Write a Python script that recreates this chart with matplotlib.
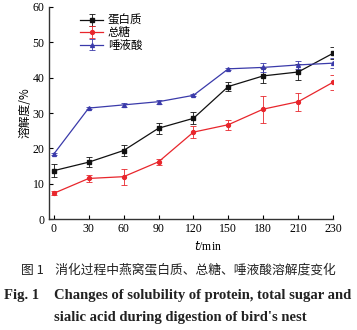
import matplotlib
matplotlib.use("Agg")
import matplotlib.pyplot as plt
import numpy as np

times = ["0", "30", "60", "90", "120", "150", "180", "210", "230"]
protein = [13.7, 16.1, 19.4, 25.7, 28.5, 37.5, 40.5, 41.6, 46.9]
protein_err = [1.8, 1.5, 1.6, 1.5, 1.7, 1.3, 2.1, 2.4, 1.7]
sugar = [7.3, 11.5, 12.0, 16.2, 24.6, 26.7, 31.1, 33.2, 38.7]
sugar_err = [0.6, 1.0, 2.3, 0.9, 1.7, 1.4, 3.8, 2.6, 2.1]
sialic = [18.4, 31.4, 32.3, 33.2, 35.0, 42.5, 42.9, 43.6, 44.1]
sialic_err = [0.3, 0.3, 0.6, 0.6, 0.3, 0.3, 1.3, 1.2, 1.5]
series_names = ["蛋白质", "总糖", "唾液酸"]

serif = ["Liberation Serif", "Noto Sans CJK SC"]
cjk = ["Noto Sans CJK SC", "DejaVu Sans"]

fig = plt.figure(figsize=(3.57, 3.30), dpi=100)
ax = fig.add_axes([0.137, 0.336, 0.796, 0.643])

x = np.arange(len(times))
styles = [
    (protein, protein_err, "#111111", "s"),
    (sugar, sugar_err, "#e8262c", "o"),
    (sialic, sialic_err, "#3a3aaa", "^"),
]
for (vals, err, col, mk), name in zip(styles, series_names):
    ax.errorbar(x, vals, yerr=err, color=col, marker=mk, markersize=2.8,
                linewidth=0.9, elinewidth=0.6, capsize=2, capthick=0.6,
                label=name)

ax.set_xlim(-0.14, 8.0)
ax.set_ylim(0, 60)
ax.set_xticks(x)
ax.set_xticklabels(times)
ax.set_yticks(np.arange(0, 61, 10))
for side in ("top", "right"):
    ax.spines[side].set_visible(False)
for side in ("left", "bottom"):
    ax.spines[side].set_linewidth(1.0)
    ax.spines[side].set_color("#333333")
ax.tick_params(direction="in", length=3, width=0.8, labelsize=8.5, pad=3)
for lab in ax.get_xticklabels() + ax.get_yticklabels():
    lab.set_family(serif)

ax.set_xlabel("$t$/min", fontsize=8.5, family=serif, labelpad=1)
ax.xaxis.set_label_coords(0.56, -0.1)
ax.set_ylabel("溶解度/%", fontsize=8.5, family=cjk, labelpad=1)

leg = ax.legend(loc="upper left", bbox_to_anchor=(0.085, 1.0), frameon=False,
                prop={"family": cjk, "size": 8.3}, handlelength=2.0,
                handletextpad=0.4, labelspacing=-0.05, borderaxespad=0.2)

fig.text(0.5, 0.182, "图 1    消化过程中燕窝蛋白质、总糖、唾液酸溶解度变化",
         ha="center", va="center", fontsize=9.2, family=cjk, color="#222222")
fig.text(0.01, 0.106, "Fig. 1", ha="left", va="center", fontsize=10.5,
         family=serif, weight="bold", color="#222222")
fig.text(0.152, 0.106, "Changes of solubility of protein, total sugar and",
         ha="left", va="center", fontsize=10.5, family=serif, weight="bold",
         color="#222222")
fig.text(0.152, 0.039, "sialic acid during digestion of bird's nest",
         ha="left", va="center", fontsize=10.5, family=serif, weight="bold",
         color="#222222")

fig.savefig("out.png", dpi=100)
